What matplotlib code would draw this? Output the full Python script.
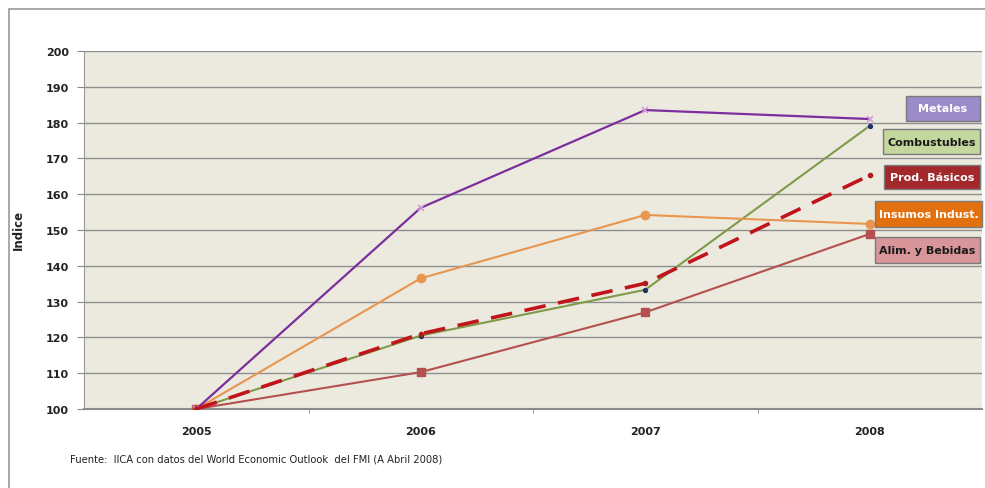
import matplotlib
matplotlib.use("Agg")
import matplotlib.pyplot as plt
from matplotlib.patches import Rectangle

years = ["2005", "2006", "2007", "2008"]
metales = [100, 156.2, 183.5, 181.0]
combustibles = [100, 120.5, 133.3, 179.1]
prod_basicos = [100, 121.0, 135.1, 165.3]
insumos = [100, 136.5, 154.2, 151.7]
alimentos = [100, 110.3, 127.0, 148.9]

labels = ["Metales", "Combustubles", "Prod. Básicos", "Insumos Indust.", "Alim. y Bebidas"]
yticks = list(range(100, 201, 10))

W, H = 985, 489
fig = plt.figure(figsize=(W / 100, H / 100), dpi=100)
fig.patch.set_facecolor("white")

# outer frame
fig.patches.append(Rectangle((9 / W, -0.1), 1.2, (H - 10) / H + 0.1, transform=fig.transFigure,
                             fill=False, edgecolor="#9a9a9a", linewidth=1.2, zorder=0))

ax = fig.add_axes([84 / W, (H - 410) / H, 898 / W, 358 / H])
ax.set_facecolor("#ECEADF")
x = list(range(len(years)))

ax.plot(x, metales, color="#7B2E9C", lw=1.6, marker="x", ms=5, mec="#D59AD8", mew=1.2, zorder=5)
ax.plot(x, combustibles, color="#7F9A48", lw=1.5, marker="o", ms=2.8, mfc="#1F2F6E", mec="#1F2F6E", zorder=4)
ax.plot(x, prod_basicos, color="#C0151B", lw=2.6, dashes=(6, 3.5), marker="o", ms=3, mfc="#B01A1E", mec="#B01A1E", zorder=6)
ax.plot(x, insumos, color="#E8954F", lw=1.5, marker="o", ms=6, mfc="#E8954F", mec="#E8954F", zorder=4)
ax.plot(x, alimentos, color="#B4504E", lw=1.5, marker="s", ms=6, mfc="#B4504E", mec="#B4504E", zorder=4)

ax.set_xlim(-0.5, 3.5)
ax.set_ylim(100, 200)
ax.set_yticks(yticks)
ax.set_yticklabels([str(v) for v in yticks], fontsize=8, fontweight="bold", color="#222222")
ax.set_xticks(x)
ax.set_xticklabels(years, fontsize=8, fontweight="bold", color="#222222")
ax.tick_params(axis="x", length=0, pad=12)
ax.set_xticks([0.5, 1.5, 2.5], minor=True)
ax.tick_params(axis="x", which="minor", length=3, direction="out", color="#888888")
ax.tick_params(axis="y", length=5, direction="out", color="#888888", pad=6)
ax.yaxis.grid(True, color="#8f8f8f", lw=1.0)
ax.set_axisbelow(True)
for s in ["top", "right"]:
    ax.spines[s].set_visible(False)
ax.spines["left"].set_color("#999999")
ax.spines["bottom"].set_color("#8a8a8a")
ax.spines["bottom"].set_linewidth(1.5)

fig.text(18 / W, 1 - 230 / H, "Indice", rotation=90, fontsize=8.5, fontweight="bold",
         ha="center", va="center", color="#222222")
fig.text(70 / W, 1 - 460 / H,
         "Fuente:  IICA con datos del World Economic Outlook  del FMI (A Abril 2008)",
         fontsize=7.2, color="#222222", ha="left", va="center")

boxes = [
    (906, 97, 980, 122, "#9B8BC8", "white"),
    (883, 130, 980, 155, "#C4D79E", "#1a1a1a"),
    (884, 166, 980, 190, "#A3282C", "white"),
    (875, 202, 982, 228, "#E3700F", "white"),
    (875, 238, 980, 264, "#D9969A", "#1a1a1a"),
]
for (x0, y0, x1, y1, fc, tc), lab in zip(boxes, labels):
    fig.patches.append(Rectangle((x0 / W, 1 - y1 / H), (x1 - x0) / W, (y1 - y0) / H,
                                 transform=fig.transFigure, facecolor=fc,
                                 edgecolor="#7a7a7a", linewidth=1.0, zorder=10))
    fig.text((x0 + x1) / 2 / W, 1 - (y0 + y1) / 2 / H, lab, fontsize=8, fontweight="bold",
             color=tc, ha="center", va="center", zorder=11)

fig.savefig("out.png", dpi=100)
